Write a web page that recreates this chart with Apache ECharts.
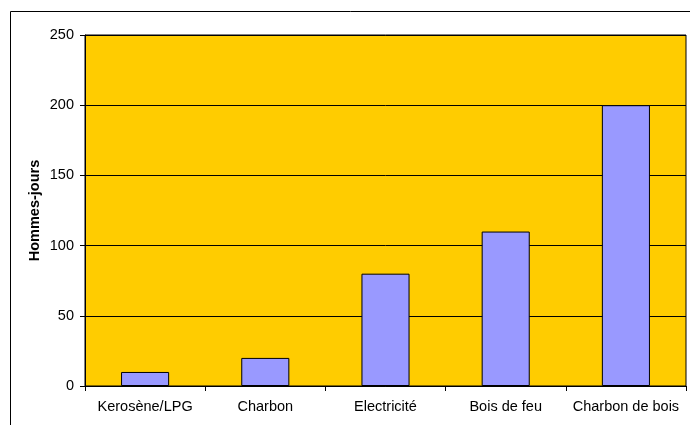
<!DOCTYPE html>
<html>
<head>
<meta charset="utf-8">
<script src="https://cdn.jsdelivr.net/npm/echarts@6/dist/echarts.min.js"></script>
<style>
  html, body { margin: 0; padding: 0; background: #fff; }
  #chart { width: 690px; height: 425px; }
</style>
</head>
<body>
<div id="chart"></div>
<script>
// data
var categories = ['Kerosène/LPG', 'Charbon', 'Electricité', 'Bois de feu', 'Charbon de bois'];
var hommesJours = [10, 20, 80, 110, 200];
var yName = 'Hommes-jours';

var chart = echarts.init(document.getElementById('chart'));

var option = {
    animation: false,
    textStyle: { fontFamily: 'Liberation Sans, Arial, sans-serif' },
    graphic: [{
        type: 'rect',
        shape: { x: 10.5, y: 11.5, width: 700, height: 430 },
        style: { fill: 'none', stroke: '#000', lineWidth: 1 },
        silent: true
    }],
    grid: {
        left: 85, top: 35, right: 4, bottom: 39,
        show: true,
        backgroundColor: '#FFCC00',
        borderColor: '#000',
        borderWidth: 1
    },
    xAxis: {
        type: 'category',
        data: categories,
        axisLine: { lineStyle: { color: '#000', width: 1 } },
        axisTick: { show: true, length: 5, lineStyle: { color: '#000' } },
        axisLabel: { color: '#000', fontSize: 14.5, margin: 13, interval: 0 }
    },
    yAxis: {
        type: 'value',
        min: 0,
        max: 250,
        interval: 50,
        name: yName,
        nameLocation: 'middle',
        nameGap: 43,
        nameMoveOverlap: false,
        nameTextStyle: { color: '#000', fontSize: 14.5, fontWeight: 'bold' },
        axisLine: { show: true, lineStyle: { color: '#000', width: 1 } },
        axisTick: { show: true, length: 5, lineStyle: { color: '#000' } },
        axisLabel: { color: '#000', fontSize: 14.5, margin: 11 },
        splitLine: { show: true, lineStyle: { color: '#000', width: 1 } }
    },
    series: [{
        type: 'bar',
        data: hommesJours,
        barWidth: '40%',
        itemStyle: { color: '#9999FF', borderColor: '#000', borderWidth: 1 }
    }]
};

chart.setOption(option);
</script>
</body>
</html>
